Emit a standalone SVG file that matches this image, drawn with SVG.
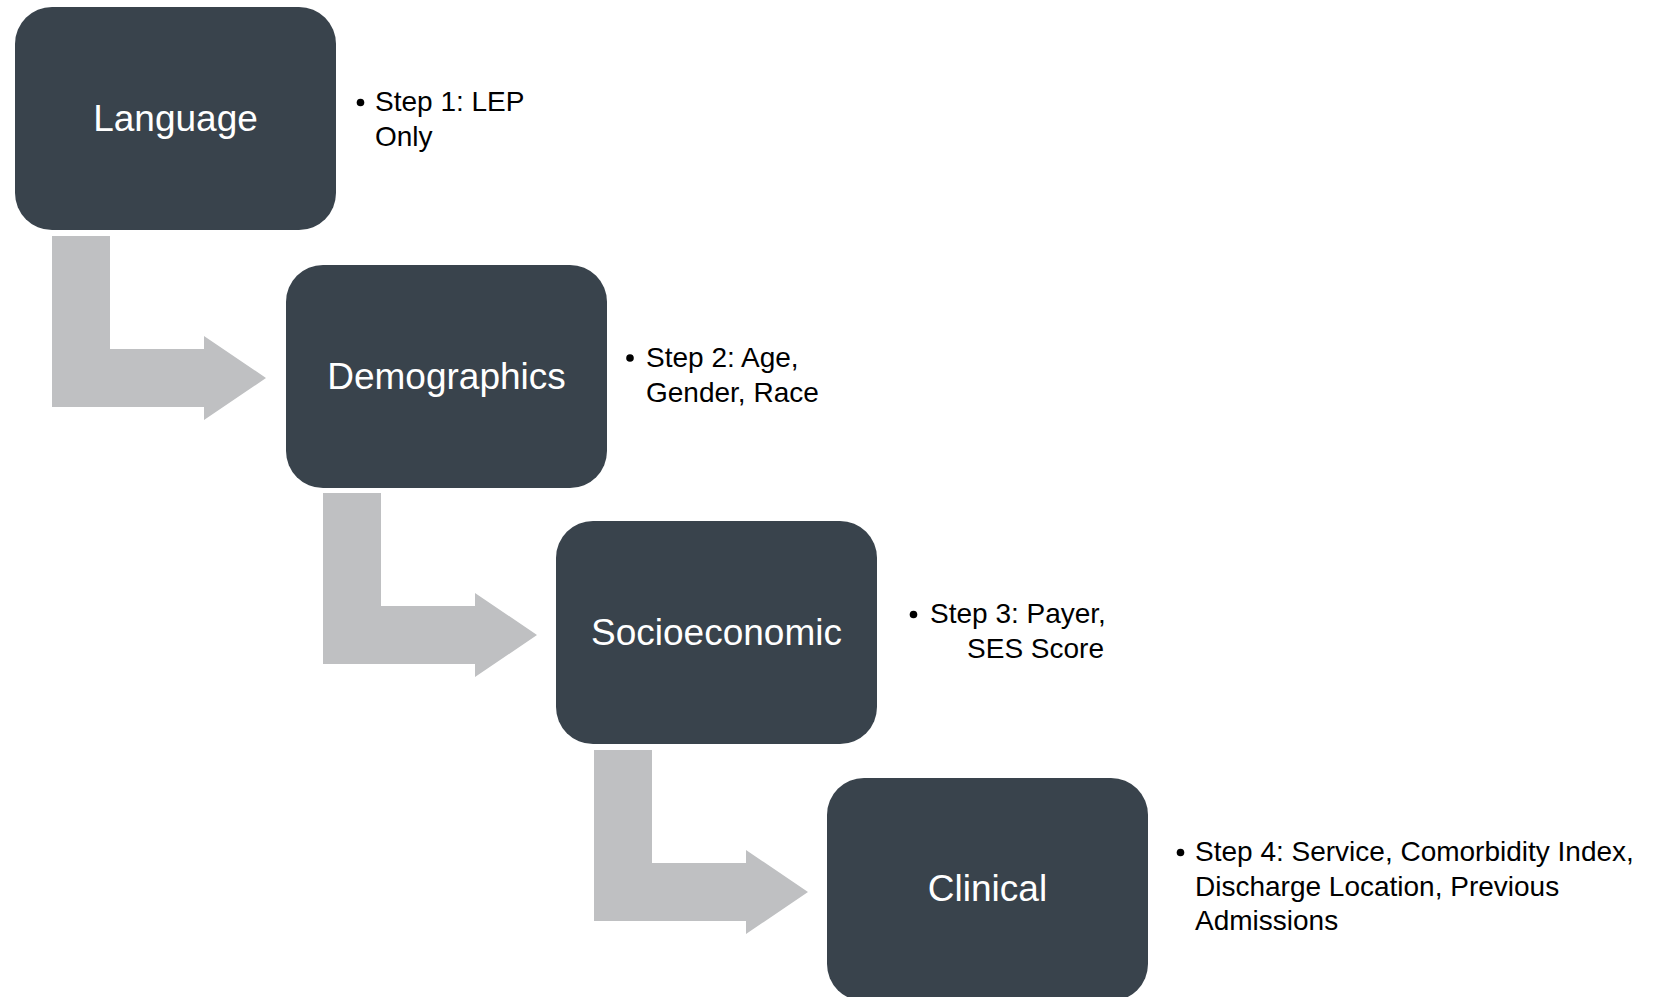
<svg xmlns="http://www.w3.org/2000/svg" width="1666" height="997" viewBox="0 0 1666 997">
  <style>
    .box { fill: #39434C; }
    .label { font-family: "Liberation Sans", Arial, sans-serif; font-size: 37px; fill: #FFFFFF; text-anchor: middle; }
    .note { font-family: "Liberation Sans", Arial, sans-serif; font-size: 28px; fill: #000000; }
    .dot { fill: #000000; }
    .bent { fill: #BFC0C2; }
  </style>
  <defs>
    <!-- bent-down-then-right arrow shape, drawn at the origin of the first step -->
    <polygon id="bentArrow" points="52,236 110,236 110,349 204,349 204,336 266,378 204,420 204,407 52,407"/>
  </defs>
  <rect width="1666" height="997" fill="#FFFFFF"/>

  <g id="connectors">
    <use href="#bentArrow" class="bent"/>
    <use href="#bentArrow" class="bent" transform="translate(271,257)"/>
    <use href="#bentArrow" class="bent" transform="translate(542,514)"/>
  </g>

  <g id="language">
    <rect class="box" x="15" y="7" width="321" height="223" rx="37" ry="37"/>
    <text class="label" x="175.5" y="131">Language</text>
    <circle class="dot" cx="360.5" cy="102.5" r="3.8"/>
    <text class="note"><tspan x="375" y="111">Step 1: LEP</tspan><tspan x="375" y="145.5">Only</tspan></text>
  </g>

  <g id="demographics">
    <rect class="box" x="286" y="265" width="321" height="223" rx="37" ry="37"/>
    <text class="label" x="446.5" y="389">Demographics</text>
    <circle class="dot" cx="630" cy="358" r="3.8"/>
    <text class="note"><tspan x="646" y="367">Step 2: Age,</tspan><tspan x="646" y="402">Gender, Race</tspan></text>
  </g>

  <g id="socioeconomic">
    <rect class="box" x="556" y="521" width="321" height="223" rx="37" ry="37"/>
    <text class="label" x="716.5" y="645">Socioeconomic</text>
    <circle class="dot" cx="913.5" cy="614.5" r="3.8"/>
    <text class="note"><tspan x="930" y="623">Step 3: Payer,</tspan></text>
    <text class="note" x="1104" y="658" text-anchor="end">SES Score</text>
  </g>

  <g id="clinical">
    <rect class="box" x="827" y="778" width="321" height="223" rx="37" ry="37"/>
    <text class="label" x="987.5" y="901">Clinical</text>
    <circle class="dot" cx="1180.5" cy="852.5" r="3.8"/>
    <text class="note"><tspan x="1195" y="861">Step 4: Service, Comorbidity Index,</tspan><tspan x="1195" y="895.5">Discharge Location, Previous</tspan><tspan x="1195" y="930">Admissions</tspan></text>
  </g>
</svg>
